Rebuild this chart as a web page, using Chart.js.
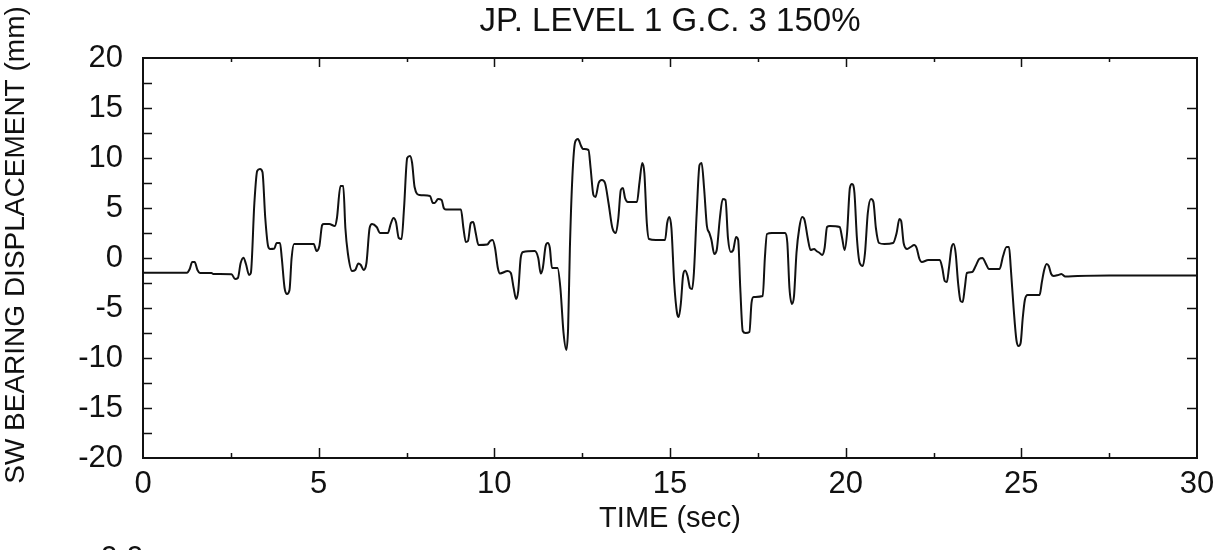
<!DOCTYPE html>
<html>
<head>
<meta charset="utf-8">
<script src="https://cdn.jsdelivr.net/npm/chart.js@4.4.1/dist/chart.umd.min.js"></script>
<style>
  html, body { margin: 0; padding: 0; background: #ffffff; }
  #wrap { width: 1223px; height: 550px; }
</style>
</head>
<body>
<div id="wrap"><canvas id="c" width="1223" height="550"></canvas></div>
<script>
// ---- Data ----
const chartTitle = 'JP. LEVEL 1 G.C. 3 150%';
const xTitle = 'TIME (sec)';
const yTitle = 'SW BEARING DISPLACEMENT (mm)';

const timeSec = [
  0, 1.25, 1.33, 1.40, 1.47, 1.55, 1.62, 1.95, 2.00, 2.52, 2.62, 2.70, 2.78, 2.86, 2.93, 3.02, 3.07,
  3.17, 3.25, 3.33, 3.40, 3.48, 3.56, 3.62, 3.74, 3.80, 3.90, 3.95, 4.03, 4.10, 4.17, 4.23, 4.30,
  4.86, 4.94, 5.02, 5.10, 5.15, 5.30, 5.46, 5.52, 5.62, 5.70, 5.76, 5.83, 5.95, 6.04, 6.13, 6.20,
  6.28, 6.36, 6.45, 6.52, 6.65, 6.75, 6.97, 7.05, 7.13, 7.20, 7.28, 7.36, 7.43, 7.52, 7.60, 7.66,
  7.73, 7.87, 8.17, 8.25, 8.30, 8.40, 8.50, 8.56, 8.62, 9.05, 9.12, 9.19, 9.25, 9.33, 9.40, 9.47,
  9.55, 9.80, 9.88, 9.95, 10.02, 10.10, 10.16, 10.38, 10.47, 10.55, 10.62, 10.68, 10.75, 10.82,
  11.15, 11.25, 11.32, 11.38, 11.46, 11.52, 11.58, 11.64, 11.80, 11.88, 11.97, 12.05, 12.10, 12.15,
  12.22, 12.30, 12.38, 12.47, 12.52, 12.68, 12.74, 12.82, 12.88, 12.97, 13.06, 13.15, 13.25, 13.36,
  13.46, 13.53, 13.60, 13.66, 13.72, 13.80, 14.06, 14.13, 14.21, 14.27, 14.34, 14.40, 14.60, 14.86,
  14.92, 14.98, 15.04, 15.12, 15.20, 15.25, 15.31, 15.37, 15.43, 15.50, 15.57, 15.63, 15.68, 15.76,
  15.84, 15.90, 15.97, 16.05, 16.12, 16.18, 16.26, 16.33, 16.42, 16.50, 16.58, 16.65, 16.73, 16.80,
  16.88, 16.94, 17.00, 17.07, 17.15, 17.26, 17.32, 17.38, 17.64, 17.70, 17.76, 17.90, 18.28, 18.34,
  18.40, 18.47, 18.53, 18.60, 18.68, 18.76, 18.83, 18.92, 19.00, 19.10, 19.17, 19.26, 19.33, 19.40,
  19.47, 19.55, 19.83, 19.90, 19.97, 20.04, 20.12, 20.18, 20.25, 20.32, 20.40, 20.49, 20.55, 20.63,
  20.72, 20.79, 20.86, 20.95, 21.10, 21.35, 21.45, 21.53, 21.58, 21.65, 21.75, 21.85, 21.95, 22.02,
  22.10, 22.17, 22.35, 22.68, 22.75, 22.82, 22.88, 22.94, 23.01, 23.07, 23.13, 23.20, 23.27, 23.33,
  23.39, 23.45, 23.60, 23.70, 23.80, 23.90, 23.98, 24.08, 24.38, 24.48, 24.58, 24.65, 24.70, 24.78,
  24.86, 24.92, 24.98, 25.04, 25.10, 25.18, 25.52, 25.58, 25.65, 25.72, 25.78, 25.85, 25.92, 26.05,
  26.14, 26.25, 26.60, 27.50, 30.00
];

const displacementMm = [
  -1.47, -1.47, -1.1, -0.4, -0.4, -1.2, -1.5, -1.5, -1.6, -1.62, -2.1, -2.0, -0.5, 0.03, -0.6, -1.7, -1.5,
  5.5, 8.7, 8.9, 8.6, 4.0, 1.2, 0.9, 0.95, 1.5, 1.5, 0.0, -3.0, -3.6, -3.2, 0.0, 1.4,
  1.4, 0.7, 1.2, 3.3, 3.4, 3.4, 3.2, 4.0, 7.2, 7.2, 3.0, 0.5, -1.3, -1.2, -0.55, -0.7,
  -1.2, -0.5, 3.0, 3.4, 3.1, 2.5, 2.5, 3.4, 4.0, 3.6, 2.0, 1.9, 5.0, 10.0, 10.2, 9.5,
  7.1, 6.3, 6.2, 5.5, 5.5, 5.9, 5.8, 5.0, 4.85, 4.85, 3.0, 1.6, 1.7, 3.5, 3.6, 2.5,
  1.3, 1.35, 1.7, 1.8, 1.0, -1.0, -1.55, -1.3, -1.5, -3.0, -4.1, -3.3, 0.0, 0.6,
  0.7, 0.0, -1.55, -1.0, 1.2, 1.5, 1.0, -1.0, -1.0, -3.0, -7.5, -9.2, -7.0, 0.9,
  8.0, 11.6, 11.9, 11.2, 10.9, 10.8, 9.0, 6.3, 6.1, 7.5, 7.8, 7.5, 5.5, 3.0,
  2.5, 4.0, 6.8, 7.0, 6.0, 5.6, 5.6, 7.5, 9.5, 8.5, 3.5, 1.9, 1.8, 1.8,
  3.5, 4.1, 3.0, -2.5, -5.5, -5.9, -4.5, -1.8, -1.25, -1.8, -3.0, -3.1, -1.5, 4.5,
  9.3, 9.5, 7.0, 3.2, 2.5, 1.8, 0.4, 0.8, 4.0, 5.9, 5.8, 2.0, 0.6, 0.8,
  2.1, 1.8, -3.0, -7.3, -7.5, -7.4, -4.5, -3.9, -3.8, 0.0, 2.4, 2.5, 2.5, 1.5,
  -3.0, -4.6, -3.8, 0.5, 3.0, 4.1, 3.8, 2.0, 0.8, 0.9, 0.7, 0.5, 0.3, 1.0,
  3.1, 3.2, 3.1, 2.0, 0.8, 2.5, 7.0, 7.4, 6.5, 2.0, -0.5, -0.8, 0.5, 4.5,
  5.9, 5.6, 3.0, 1.5, 1.4, 1.5, 2.5, 3.9, 3.7, 1.5, 0.9, 1.1, 1.3, 1.0,
  -0.1, -0.4, -0.2, -0.2, -1.0, -2.3, -2.4, -1.0, 1.0, 1.4, 0.5, -2.5, -4.3, -4.4,
  -3.0, -1.5, -1.4, -0.8, -0.1, 0.0, -0.5, -1.1, -1.1, 0.2, 1.1, 1.1, -1.0, -5.0,
  -8.2, -8.8, -8.5, -6.0, -4.2, -3.7, -3.7, -2.5, -1.2, -0.6, -0.8, -1.6, -1.8, -1.7,
  -1.6, -1.85, -1.8, -1.75, -1.75
];

const xTickLabels = [0, 5, 10, 15, 20, 25, 30];
const yTickLabels = [20, 15, 10, 5, 0, -5, -10, -15, -20];
const xMajorTickMarks = [5, 10, 15, 20, 25];
const xMinorTickMarks = [2.5, 7.5, 12.5, 17.5, 22.5, 27.5];
const yLeftTickMarks = [-17.5, -15, -12.5, -10, -7.5, -5, -2.5, 0, 2.5, 5, 7.5, 10, 12.5, 15, 17.5];
const yRightTickMarks = [-15, -10, -5, 0, 5, 10, 15];

// ---- Chart ----
const INK = '#111111';
const FONT = '"Liberation Sans", Arial, Helvetica, sans-serif';

const points = timeSec.map((t, i) => ({ x: t, y: displacementMm[i] }));

const framePlugin = {
  id: 'frameAndTexts',
  afterDraw(chart) {
    const { ctx, chartArea: a, scales } = chart;
    const xs = scales.x, ys = scales.y;
    ctx.save();
    ctx.strokeStyle = INK;
    ctx.lineWidth = 2;
    ctx.strokeRect(a.left, a.top, a.right - a.left, a.bottom - a.top);
    ctx.lineWidth = 1.5;
    ctx.beginPath();
    xMajorTickMarks.forEach(v => {
      const px = Math.round(xs.getPixelForValue(v)) + 0.5;
      ctx.moveTo(px, a.bottom); ctx.lineTo(px, a.bottom - 10);
      ctx.moveTo(px, a.top); ctx.lineTo(px, a.top + 9);
    });
    xMinorTickMarks.forEach(v => {
      const px = Math.round(xs.getPixelForValue(v)) + 0.5;
      ctx.moveTo(px, a.bottom); ctx.lineTo(px, a.bottom - 5);
      ctx.moveTo(px, a.top); ctx.lineTo(px, a.top + 4);
    });
    yLeftTickMarks.forEach(v => {
      const py = Math.round(ys.getPixelForValue(v)) + 0.5;
      ctx.moveTo(a.left, py); ctx.lineTo(a.left + 9, py);
    });
    yRightTickMarks.forEach(v => {
      const py = Math.round(ys.getPixelForValue(v)) + 0.5;
      ctx.moveTo(a.right, py); ctx.lineTo(a.right - 10, py);
    });
    ctx.stroke();

    // chart title
    ctx.fillStyle = INK;
    ctx.textAlign = 'center';
    ctx.textBaseline = 'middle';
    ctx.font = '33px ' + FONT;
    ctx.fillText(chartTitle, (a.left + a.right) / 2, 22);

    // y axis title
    ctx.save();
    ctx.translate(16, 245);
    ctx.rotate(-Math.PI / 2);
    ctx.font = '28px ' + FONT;
    ctx.fillText(yTitle, 0, 0);
    ctx.restore();

    // fragment of the next panel's tick label, cut by the bottom edge
    ctx.textAlign = 'center';
    ctx.textBaseline = 'alphabetic';
    ctx.font = '31px ' + FONT;
    ctx.fillText('0.0', 122, 568);
    ctx.restore();
  }
};

new Chart(document.getElementById('c'), {
  type: 'line',
  data: {
    datasets: [{
      data: points,
      borderColor: INK,
      borderWidth: 2,
      pointRadius: 0,
      fill: false,
      cubicInterpolationMode: 'monotone'
    }]
  },
  options: {
    responsive: false,
    animation: false,
    events: [],
    layout: { padding: { top: 58, right: 26, left: 0, bottom: 0 } },
    plugins: { legend: { display: false }, tooltip: { enabled: false }, title: { display: false } },
    scales: {
      x: {
        type: 'linear',
        min: 0, max: 30,
        afterFit(scale) { scale.height = 92; },
        afterBuildTicks(scale) { scale.ticks = xTickLabels.map(v => ({ value: v })); },
        grid: { display: false, drawTicks: false },
        border: { display: false },
        ticks: {
          color: INK,
          padding: 8,
          maxRotation: 0,
          autoSkip: false,
          font: { family: FONT, size: 31 },
          callback: v => String(v)
        },
        title: {
          display: true,
          text: xTitle,
          color: INK,
          font: { family: FONT, size: 29 },
          padding: { top: 0, bottom: 14 }
        }
      },
      y: {
        type: 'linear',
        min: -20, max: 20,
        afterFit(scale) { scale.width = 143; },
        afterBuildTicks(scale) { scale.ticks = yTickLabels.slice().reverse().map(v => ({ value: v })); },
        grid: { display: false, drawTicks: false },
        border: { display: false },
        ticks: {
          color: INK,
          padding: 20,
          autoSkip: false,
          font: { family: FONT, size: 31 },
          callback: v => String(v)
        },
        title: { display: false }
      }
    }
  },
  plugins: [framePlugin]
});
</script>
</body>
</html>
